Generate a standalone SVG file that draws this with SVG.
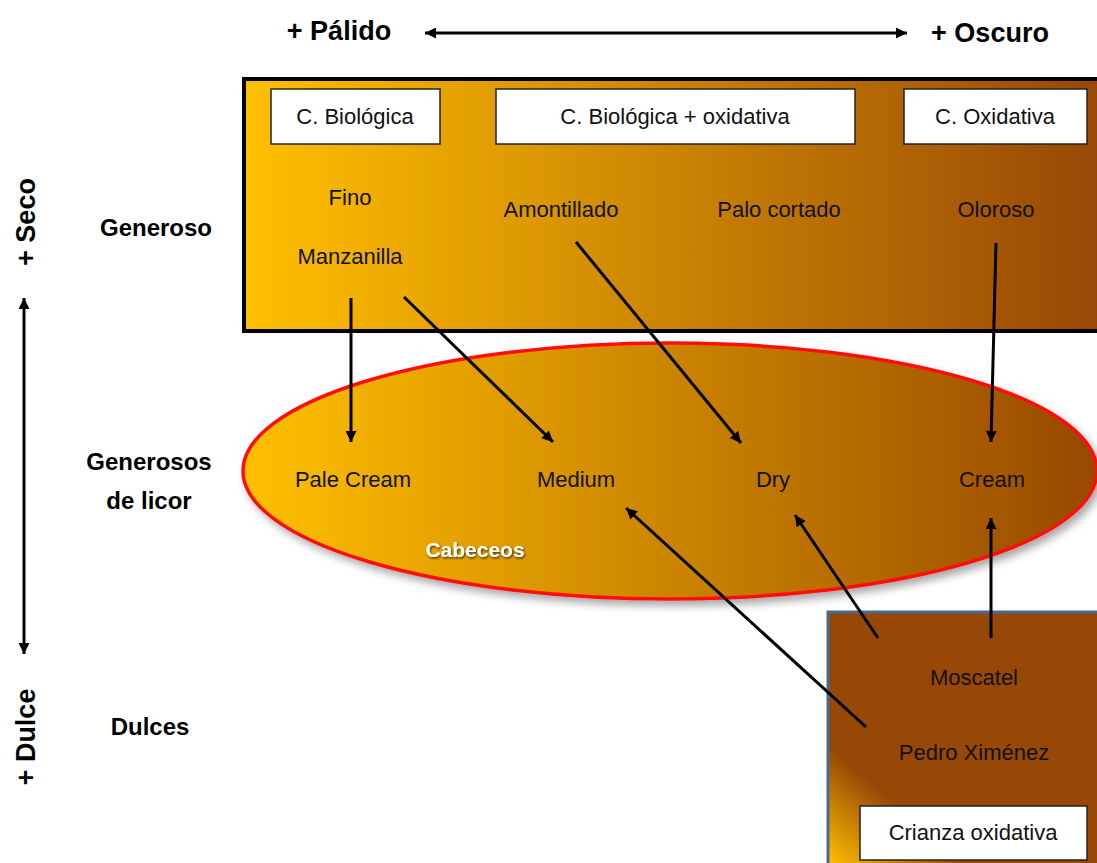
<svg xmlns="http://www.w3.org/2000/svg" width="1097" height="863" viewBox="0 0 1097 863">
  <style>
    .t { font-family: "Liberation Sans", Arial, sans-serif; font-size: 22px; fill: #111; text-anchor: middle; }
    .b { font-family: "Liberation Sans", Arial, sans-serif; font-weight: bold; fill: #000; text-anchor: middle; }
    .lbl { font-size: 24px; }
    .ax { font-size: 27px; }
    .box { fill: #fff; stroke: #222; stroke-width: 1.5; }
    .conn { stroke: #000; stroke-width: 3; fill: none; marker-end: url(#ah); }
    .axis { stroke: #000; stroke-width: 3; fill: none; marker-start: url(#ah); marker-end: url(#ah); }
  </style>
  <defs>
    <linearGradient id="grad" gradientUnits="userSpaceOnUse" x1="243" y1="0" x2="1097" y2="0">
      <stop offset="0" stop-color="#FFC000"/>
      <stop offset="1" stop-color="#984806"/>
    </linearGradient>
    <linearGradient id="gradCorner" gradientUnits="userSpaceOnUse" x1="827" y1="863" x2="885" y2="795">
      <stop offset="0" stop-color="#FFC000"/>
      <stop offset="1" stop-color="#984806"/>
    </linearGradient>
    <marker id="ah" viewBox="0 0 10 10" refX="10" refY="5" markerWidth="13" markerHeight="11" markerUnits="userSpaceOnUse" orient="auto-start-reverse">
      <path d="M0,0 L10,5 L0,10 z" fill="#000"/>
    </marker>
    <filter id="shadow" x="-10%" y="-10%" width="125%" height="130%">
      <feDropShadow dx="4" dy="5" stdDeviation="4" flood-color="#000" flood-opacity="0.35"/>
    </filter>
    <filter id="tshadow" x="-10%" y="-30%" width="130%" height="170%">
      <feDropShadow dx="1" dy="1.5" stdDeviation="1" flood-color="#000" flood-opacity="0.7"/>
    </filter>
  </defs>

  <!-- axis labels -->
  <g id="axis-horizontal">
    <text class="b ax" x="339" y="40" font-size="28">+ Pálido</text>
    <text class="b ax" x="990" y="42" font-size="28">+ Oscuro</text>
  </g>
  <g id="axis-vertical">
    <text class="b ax" transform="translate(35,222) rotate(-90)" x="0" y="0">+ Seco</text>
    <text class="b ax" transform="translate(35,737) rotate(-90)" x="0" y="0">+ Dulce</text>
  </g>

  <!-- row labels -->
  <g id="label-generoso"><text class="b lbl" x="156" y="236">Generoso</text></g>
  <g id="label-licor">
    <text class="b lbl" x="149" y="470">Generosos</text>
    <text class="b lbl" x="149" y="509">de licor</text>
  </g>
  <g id="label-dulces"><text class="b lbl" x="150" y="735">Dulces</text></g>

  <!-- Generoso block -->
  <g id="generoso-block">
    <rect x="244" y="79" width="880" height="252" fill="url(#grad)" stroke="#000" stroke-width="4"/>
    <g id="box-biologica">
      <rect class="box" x="271" y="89" width="169" height="55"/>
      <text class="t" x="355" y="124">C. Biológica</text>
    </g>
    <g id="box-bio-oxi">
      <rect class="box" x="496" y="89" width="359" height="55"/>
      <text class="t" x="675" y="124">C. Biológica + oxidativa</text>
    </g>
    <g id="box-oxidativa">
      <rect class="box" x="904" y="89" width="183" height="55"/>
      <text class="t" x="995" y="124">C. Oxidativa</text>
    </g>
    <g id="node-fino"><text class="t" x="350" y="205">Fino</text></g>
    <g id="node-manzanilla"><text class="t" x="350" y="264">Manzanilla</text></g>
    <g id="node-amontillado"><text class="t" x="561" y="217">Amontillado</text></g>
    <g id="node-palo"><text class="t" x="779" y="217">Palo cortado</text></g>
    <g id="node-oloroso"><text class="t" x="996" y="217">Oloroso</text></g>
  </g>

  <!-- Cabeceos ellipse -->
  <g id="cabeceos-ellipse">
    <ellipse cx="670" cy="471" rx="427" ry="128" fill="url(#grad)" stroke="#FF1010" stroke-width="3.5" filter="url(#shadow)"/>
    <text class="b" x="475" y="557" font-size="21" style="fill:#fff" filter="url(#tshadow)">Cabeceos</text>
    <g id="node-palecream"><text class="t" x="353" y="487">Pale Cream</text></g>
    <g id="node-medium"><text class="t" x="576" y="487">Medium</text></g>
    <g id="node-dry"><text class="t" x="773" y="487">Dry</text></g>
    <g id="node-cream"><text class="t" x="992" y="487">Cream</text></g>
  </g>

  <!-- Dulces block -->
  <g id="dulces-block">
    <rect x="828" y="612" width="290" height="270" fill="url(#gradCorner)" stroke="#4A6990" stroke-width="3"/>
    <g id="node-moscatel"><text class="t" x="974" y="685">Moscatel</text></g>
    <g id="node-px"><text class="t" x="974" y="760">Pedro Ximénez</text></g>
    <g id="box-crianza">
      <rect class="box" x="860" y="806" width="227" height="54"/>
      <text class="t" x="973" y="840">Crianza oxidativa</text>
    </g>
  </g>

  <!-- connectors -->
  <g id="connectors">
    <line class="axis" x1="425" y1="33" x2="907" y2="33"/>
    <line class="axis" x1="24" y1="298" x2="24" y2="654"/>
    <line class="conn" x1="351" y1="298" x2="351" y2="442"/>
    <line class="conn" x1="404" y1="297" x2="553" y2="442"/>
    <line class="conn" x1="576" y1="242" x2="741" y2="443"/>
    <line class="conn" x1="996" y1="243" x2="991" y2="442"/>
    <line class="conn" x1="866" y1="727" x2="626" y2="508"/>
    <line class="conn" x1="878" y1="638" x2="795" y2="515"/>
    <line class="conn" x1="991" y1="638" x2="991" y2="518"/>
  </g>
</svg>
